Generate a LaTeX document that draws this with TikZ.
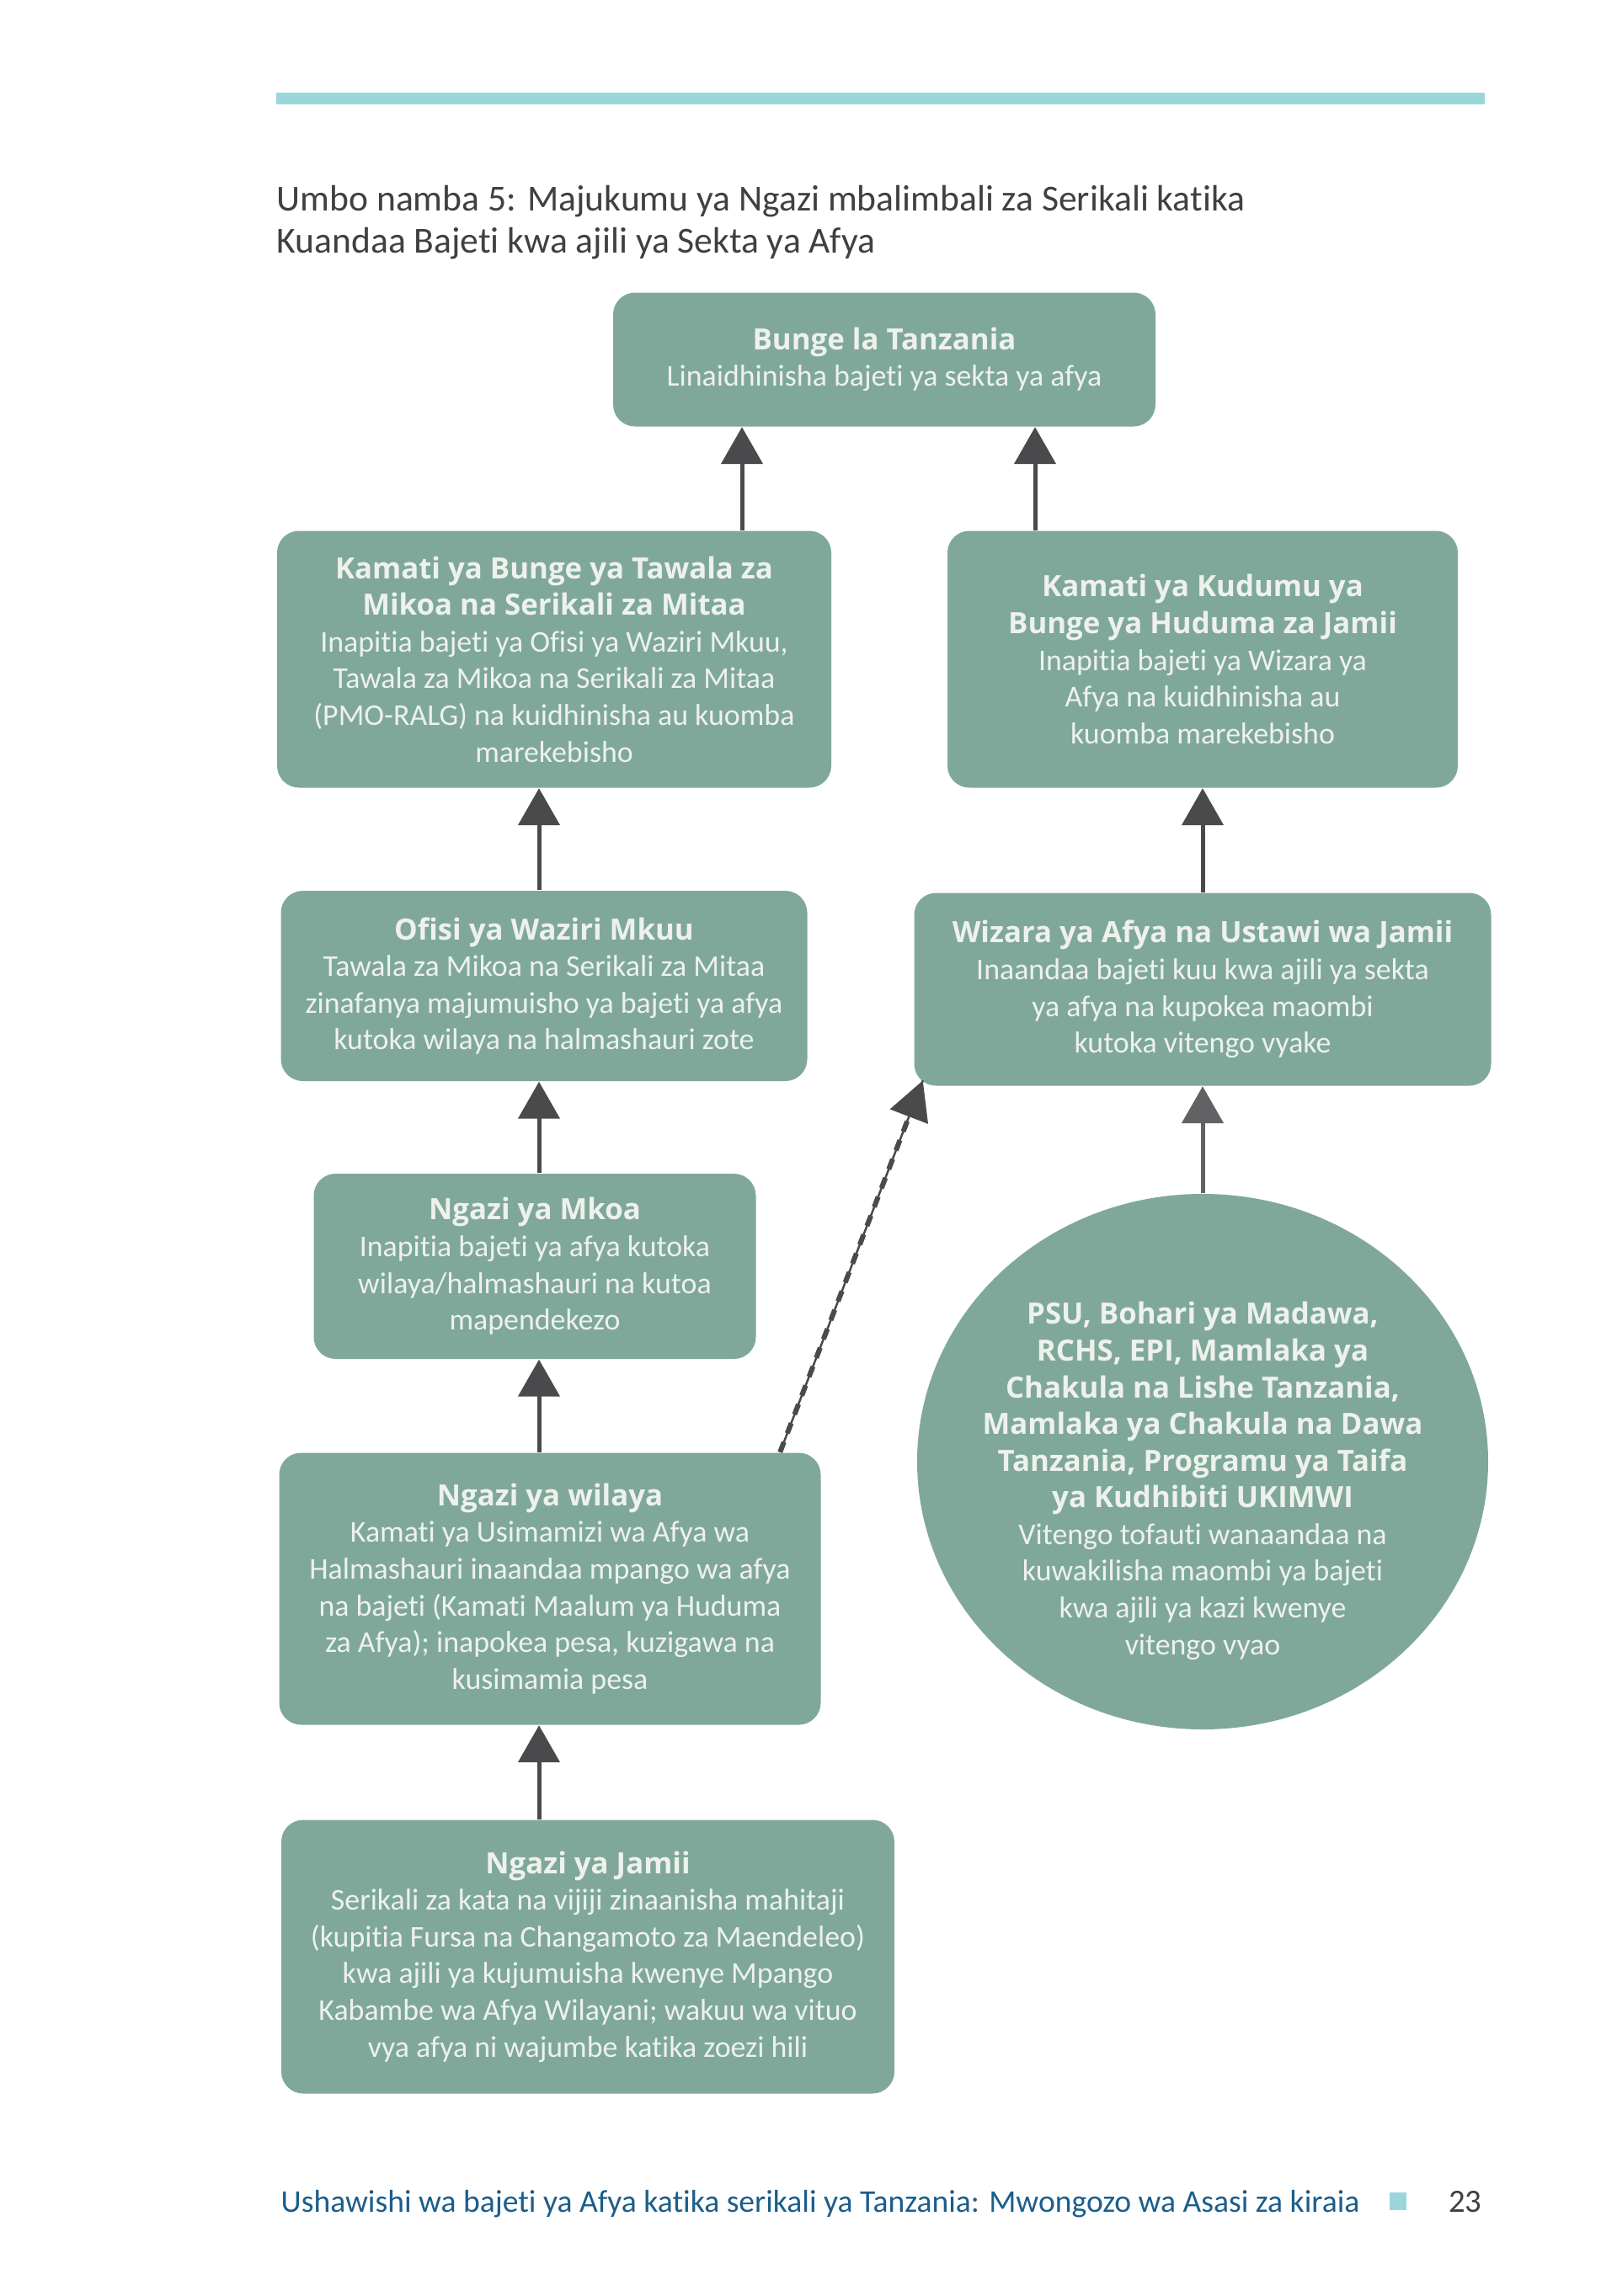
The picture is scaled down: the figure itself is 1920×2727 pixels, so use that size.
\documentclass[tikz,border=0pt]{standalone}
\usepackage{fontspec}
\setmainfont{Carlito}[Ligatures=NoCommon]
\newfontfamily\headfont{Open Sans}
\usetikzlibrary{arrows.meta,shapes.geometric}

\definecolor{boxgreen}{RGB}{127,168,155}
\definecolor{boxtext}{RGB}{238,241,236}
\definecolor{arrowgrey}{RGB}{74,74,76}
\definecolor{lightarrow}{RGB}{98,98,100}
\definecolor{bargreen}{RGB}{155,215,218}
\definecolor{footblue}{RGB}{27,94,140}
\definecolor{titlegrey}{RGB}{64,64,64}

\newcommand{\hd}[1]{{\headfont\bfseries\fontsize{9.9}{12.4}\selectfont #1}}

\begin{document}
\begin{tikzpicture}[x=0.1mm,y=-0.1mm,
  box/.style={rectangle,rounded corners=2.6mm,fill=boxgreen,text=boxtext,align=center,
    inner sep=0pt,font=\fontsize{10.2}{12.4}\selectfont},
  plain/.style={inner sep=0pt,text=titlegrey},
  arr/.style={draw=arrowgrey,line width=0.5mm,-{Triangle[width=4.9mm,length=4.4mm]}},
  dasharr/.style={draw=arrowgrey,line width=0.6mm,dash pattern=on 1.3mm off 1.1mm,
    -{Triangle[width=4.7mm,length=4.6mm]},
    preaction={draw=arrowgrey,line width=0.25mm,solid,-}}]

  \useasboundingbox (0,0) rectangle (1920,2727);
  \fill[white] (0,0) rectangle (1920,2727);

  % top bar and caption
  \fill[bargreen] (328,110) rectangle (1763,124);
  \node[plain,anchor=base west,font=\fontsize{12.4}{14.2}\selectfont] (title1) at (328,250)
    {Umbo namba 5: Majukumu ya Ngazi mbalimbali za Serikali katika};
  \node[plain,anchor=base west,font=\fontsize{12.4}{14.2}\selectfont] (title2) at (328,300)
    {Kuandaa Bajeti kwa ajili ya Sekta ya Afya};

  % boxes
  \node[box,minimum width=64.4mm,minimum height=15.9mm] (bunge) at (1050,427)
    {\hd{Bunge la Tanzania}\\Linaidhinisha bajeti ya sekta ya afya};
  \node[box,minimum width=65.8mm,minimum height=30.5mm] (tamisemi) at (658,783)
    {\hd{Kamati ya Bunge ya Tawala za}\\\hd{Mikoa na Serikali za Mitaa}\\
     Inapitia bajeti ya Ofisi ya Waziri Mkuu,\\Tawala za Mikoa na Serikali za Mitaa\\
     (PMO-RALG) na kuidhinisha au kuomba\\marekebisho};
  \node[box,minimum width=60.6mm,minimum height=30.5mm] (kudumu) at (1428,783)
    {\hd{Kamati ya Kudumu ya}\\\hd{Bunge ya Huduma za Jamii}\\
     Inapitia bajeti ya Wizara ya\\Afya na kuidhinisha au\\kuomba marekebisho};
  \node[box,minimum width=62.5mm,minimum height=22.6mm] (ofisi) at (646,1171)
    {\hd{Ofisi ya Waziri Mkuu}\\Tawala za Mikoa na Serikali za Mitaa\\
     zinafanya majumuisho ya bajeti ya afya\\kutoka wilaya na halmashauri zote};
  \node[box,minimum width=68.5mm,minimum height=22.9mm] (wizara) at (1428,1175)
    {\hd{Wizara ya Afya na Ustawi wa Jamii}\\Inaandaa bajeti kuu kwa ajili ya sekta\\
     ya afya na kupokea maombi\\kutoka vitengo vyake};
  \node[box,minimum width=52.5mm,minimum height=22mm] (mkoa) at (635,1504)
    {\hd{Ngazi ya Mkoa}\\Inapitia bajeti ya afya kutoka\\wilaya/halmashauri na kutoa\\mapendekezo};
  \node[box,minimum width=64.3mm,minimum height=32.3mm] (wilaya) at (653,1887)
    {\hd{Ngazi ya wilaya}\\Kamati ya Usimamizi wa Afya wa\\Halmashauri inaandaa mpango wa afya\\
     na bajeti (Kamati Maalum ya Huduma\\za Afya); inapokea pesa, kuzigawa na\\kusimamia pesa};
  \node[box,minimum width=72.8mm,minimum height=32.5mm] (jamii) at (698,2324)
    {\hd{Ngazi ya Jamii}\\Serikali za kata na vijiji zinaanisha mahitaji\\
     (kupitia Fursa na Changamoto za Maendeleo)\\kwa ajili ya kujumuisha kwenye Mpango\\
     Kabambe wa Afya Wilayani; wakuu wa vituo\\vya afya ni wajumbe katika zoezi hili};
  \node[ellipse,fill=boxgreen,text=boxtext,inner sep=0pt,
    minimum width=67.8mm,minimum height=63.6mm,font=\fontsize{10.2}{12.4}\selectfont] (psu) at (1428,1736)
    {\makebox[0pt]{\raisebox{-3.3mm}[0pt][0pt]{\begin{tabular}{@{}c@{}}
     \hd{PSU, Bohari ya Madawa,}\\\hd{RCHS, EPI, Mamlaka ya}\\\hd{Chakula na Lishe Tanzania,}\\
     \hd{Mamlaka ya Chakula na Dawa}\\\hd{Tanzania, Programu ya Taifa}\\\hd{ya Kudhibiti UKIMWI}\\
     Vitengo tofauti wanaandaa na\\kuwakilisha maombi ya bajeti\\kwa ajili ya kazi kwenye\\vitengo vyao
     \end{tabular}}}};

  % arrow lines
  \coordinate (upl) at (881,0);
  \coordinate (upr) at (1229,0);
  \coordinate (lspine) at (640,0);
  \coordinate (rspine) at (1428,0);

  \draw[arr] (tamisemi.north -| upl) -- (bunge.south -| upl);
  \draw[arr] (kudumu.north -| upr) -- (bunge.south -| upr);
  \draw[arr] (ofisi.north -| lspine) -- (tamisemi.south -| lspine);
  \draw[arr] (mkoa.north -| lspine) -- (ofisi.south -| lspine);
  \draw[arr] (wilaya.north -| lspine) -- (mkoa.south -| lspine);
  \draw[arr] (jamii.north -| lspine) -- (wilaya.south -| lspine);
  \draw[arr] (wizara.north -| rspine) -- (kudumu.south -| rspine);
  \draw[arr,draw=lightarrow] (psu.north -| rspine) -- (wizara.south -| rspine);
  \draw[dasharr] ([xshift=-4.9mm]wilaya.north east) -- ([xshift=1.1mm,yshift=0.7mm]wizara.south west);

  % footer
  \node[plain,anchor=base west,text=footblue,font=\fontsize{10.7}{12}\selectfont] (footer) at (333,2627)
    {Ushawishi wa bajeti ya Afya katika serikali ya Tanzania: Mwongozo wa Asasi za kiraia};
  \fill[bargreen] (1650,2604) rectangle (1670,2625);
  \node[plain,anchor=base east,font=\fontsize{11}{13}\selectfont] (pagenum) at (1760,2627) {23};
\end{tikzpicture}
\end{document}
